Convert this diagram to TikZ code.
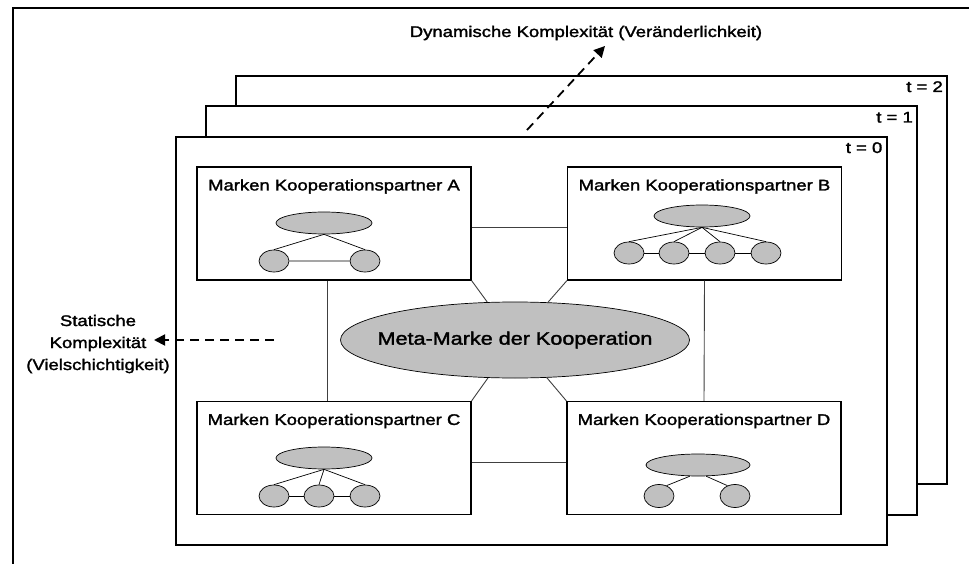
\documentclass[tikz,border=0pt]{standalone}
\usepackage{fontspec}
\setmainfont[FakeStretch=1.2,FakeBold=1.8]{Liberation Sans}
\usetikzlibrary{shapes.geometric,arrows.meta,positioning}
\definecolor{markgray}{RGB}{192,192,192}
\tikzset{
  timeframe/.style={draw,line width=2pt,fill=white,minimum width=711pt,minimum height=408pt,inner sep=0pt},
  partner/.style={draw,line width=1.1pt,fill=white,minimum width=274pt,minimum height=113pt,inner sep=0pt},
  brand/.style={draw,ellipse,fill=markgray,line width=0.7pt,inner sep=0pt,minimum width=96pt,minimum height=22pt},
  subbrand/.style={brand,minimum width=30pt},
  tlabel/.style={font=\fontsize{15.4}{18}\selectfont,anchor=base east,inner sep=0pt},
  title/.style={font=\fontsize{15.4}{22}\selectfont,anchor=base,inner sep=0pt},
  link/.style={draw=black!75,line width=0.9pt},
  tree/.style={line width=0.7pt},
  dasharrow/.style={line width=1.8pt,dash pattern=on 9pt off 6pt,-{Triangle[length=11pt,width=11pt]}}
}
\begin{document}
\begin{tikzpicture}[x=1pt,y=-1pt]
\useasboundingbox (0,0) rectangle (969,564);
\draw[line width=2.4pt] (13,564) -- (13,8) -- (969,8);
% time layers
\node[timeframe] (f2) at (591.5,280) {};
\node[tlabel] at ([xshift=-5pt,yshift=-17pt]f2.north east) {t = 2};
\node[timeframe] (f1) at (561.5,310.5) {};
\node[tlabel] at ([xshift=-5pt,yshift=-17pt]f1.north east) {t = 1};
\node[timeframe] (f0) at (531,341) {};
\node[tlabel] at ([xshift=-5pt,yshift=-17pt]f0.north east) {t = 0};
% complexity arrows
\node[title] (dyn) at (586,37) {Dynamische Komplexität (Veränderlichkeit)};
\coordinate (dynfrom) at (527,130);
\coordinate (dynto) at (605,46);
\draw[dasharrow] (dynfrom) -- (dynto);
\node[title,align=center] (stat) at (98,370) {Statische\\Komplexität\\(Vielschichtigkeit)};
\coordinate (statfrom) at (274,340);
\coordinate (statto) at (154,340);
\draw[dasharrow] (statfrom) -- (statto);
% partner boxes
\node[partner] (A) at (334,223.5) {};
\node[title] at ([yshift=-24pt]A.north) {Marken Kooperationspartner A};
\node[partner] (B) at (704.5,223.5) {};
\node[title] at ([yshift=-24pt]B.north) {Marken Kooperationspartner B};
\node[partner] (C) at (334,458) {};
\node[title] at ([yshift=-24pt]C.north) {Marken Kooperationspartner C};
\node[partner] (D) at (704,458) {};
\node[title] at ([yshift=-24pt]D.north) {Marken Kooperationspartner D};
% meta brand
\node[brand,minimum width=349pt,minimum height=76pt] (meta) at (515,340) {};
\node[font=\fontsize{18}{20}\selectfont,inner sep=0pt] (metatext) at (meta.center) {Meta-Marke der Kooperation};
\draw[link] ([yshift=-3.5pt]A.east) -- ([yshift=-3.5pt]B.west);
\draw[link] ([yshift=-4pt]C.east) -- ([yshift=-4pt]D.west);
\draw[link] ([xshift=-7pt]A.south) -- ([xshift=-7pt]C.north);
\draw[link] (B.south) -- (D.north);
\draw[link] (A.south east) -- (meta);
\draw[link] (B.south west) -- (meta);
\draw[link] (C.north east) -- (meta);
\draw[link] (D.north west) -- (meta);
% brand trees
\node[brand] (Atop) at (324,223) {};
\node[subbrand] (A1) at (274,261) {};
\node[subbrand] (A2) at (365,261) {};
\draw[tree] (Atop.south) -- (A1.north) (Atop.south) -- (A2.north) (A1) -- (A2);
\node[brand] (Btop) at (702,216) {};
\foreach \i/\x in {1/629,2/674,3/720,4/766} {
  \node[subbrand] (B\i) at (\x,253) {};
  \draw[tree] (Btop.south) -- (B\i.north);
}
\draw[tree] (B1) -- (B2) (B2) -- (B3) (B3) -- (B4);
\node[brand] (Ctop) at (324,458) {};
\foreach \i/\x in {1/274,2/319,3/365} {
  \node[subbrand] (C\i) at (\x,496) {};
  \draw[tree] (Ctop.south) -- (C\i.north);
}
\draw[tree] (C1) -- (C2) (C2) -- (C3);
\node[brand,minimum width=104pt] (Dtop) at (698,465) {};
\node[subbrand,minimum height=23pt] (D1) at (659,496) {};
\node[subbrand,minimum height=23pt] (D2) at (735,496) {};
\draw[tree] (Dtop.234) -- (D1.54) (Dtop.306) -- (D2.126);
\end{tikzpicture}
\end{document}
